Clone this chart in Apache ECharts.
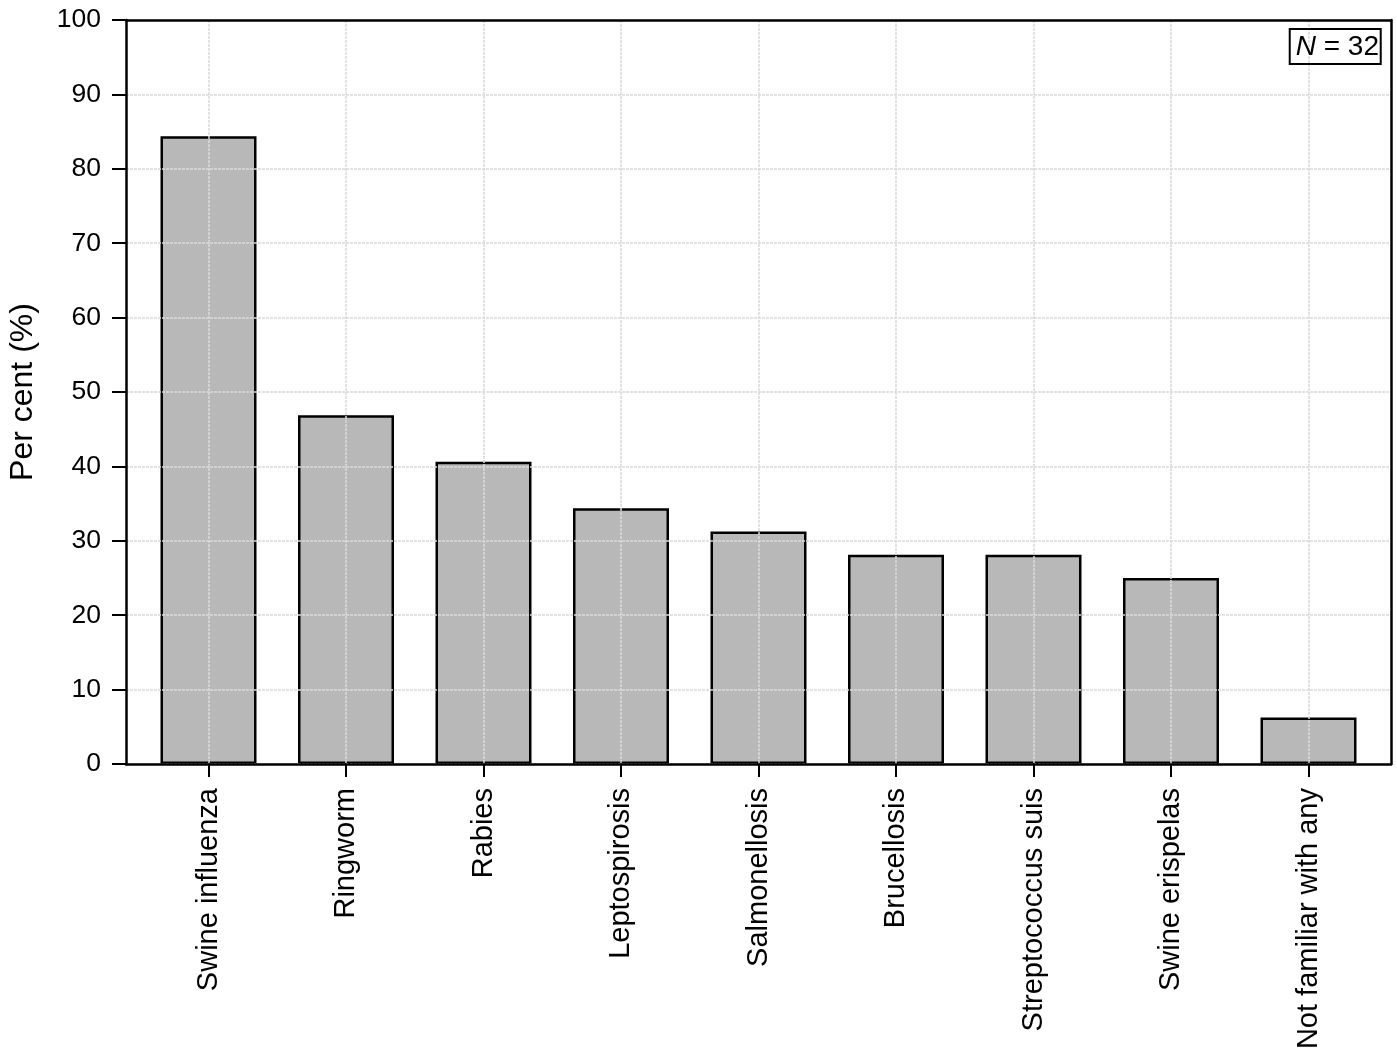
<!DOCTYPE html>
<html><head><meta charset="utf-8">
<script src="https://cdn.jsdelivr.net/npm/echarts@6/dist/echarts.min.js"></script>
<style>html,body{margin:0;padding:0;background:#fff}#c{width:1397px;height:1056px}</style>
</head><body><div id="c"></div>
<script>
const categories = ['Swine influenza','Ringworm','Rabies','Leptospirosis','Salmonellosis','Brucellosis','Streptococcus suis','Swine erispelas','Not familiar with any'];
const values = [84.375, 46.875, 40.625, 34.375, 31.25, 28.125, 28.125, 25, 6.25];
const yTicks = [0,10,20,30,40,50,60,70,80,90,100];
const positions = categories.map((c,i)=>i);
const font = 'Liberation Sans, Arial, sans-serif';
const blackLine = {show:true,onZero:false,lineStyle:{color:'#000',width:2.5}};
const grid = {color:'#dadada',width:1.5,type:[3,1]};
const chart = echarts.init(document.getElementById('c'));
chart.setOption({
  animation:false,
  backgroundColor:'#fff',
  title:{
    text:'{i|N}{n| = 32}',
    right:16, top:29,
    borderColor:'#000', borderWidth:2, padding:[4,2,3,6],
    textStyle:{rich:{
      i:{fontFamily:font,fontStyle:'italic',fontWeight:'normal',fontSize:28,color:'#000'},
      n:{fontFamily:font,fontWeight:'normal',fontSize:28,color:'#000'}
    }}
  },
  grid:{left:126,right:6,top:20,bottom:292,containLabel:false,outerBoundsMode:'none'},
  xAxis:[{
    type:'value', min:-0.6, max:8.6, position:'bottom', z:5,
    axisLine:blackLine,
    axisTick:{show:true,length:13,customValues:positions,lineStyle:{color:'#000',width:2}},
    axisLabel:{show:true,customValues:positions,rotate:90,margin:24,fontSize:29,fontFamily:font,color:'#000',
      formatter:v=>categories[Math.round(v)]},
    splitLine:{show:true,lineStyle:grid}
  },{
    type:'value', min:-0.6, max:8.6, position:'top', z:5,
    axisLine:blackLine, axisTick:{show:false}, axisLabel:{show:false}, splitLine:{show:false}
  }],
  yAxis:[{
    type:'value', min:0, max:100, interval:10, position:'left', z:5,
    name:'Per cent (%)', nameLocation:'middle', nameGap:87, nameRotate:90,
    nameTextStyle:{fontSize:32,fontFamily:font,color:'#000'},
    axisLine:blackLine,
    axisTick:{show:true,length:14,lineStyle:{color:'#000',width:2}},
    axisLabel:{fontSize:26.5,fontFamily:font,color:'#000',margin:25},
    splitLine:{show:true,lineStyle:grid}
  },{
    type:'value', min:0, max:100, interval:10, position:'right', z:5,
    axisLine:blackLine, axisTick:{show:false}, axisLabel:{show:false}, splitLine:{show:false}
  }],
  series:[{
    type:'bar',
    barWidth:96,
    data:positions.map((p,i)=>[p,values[i]]),
    itemStyle:{color:'#b8b8b8',borderColor:'#000',borderWidth:2.5}
  }]
});
</script></body></html>
